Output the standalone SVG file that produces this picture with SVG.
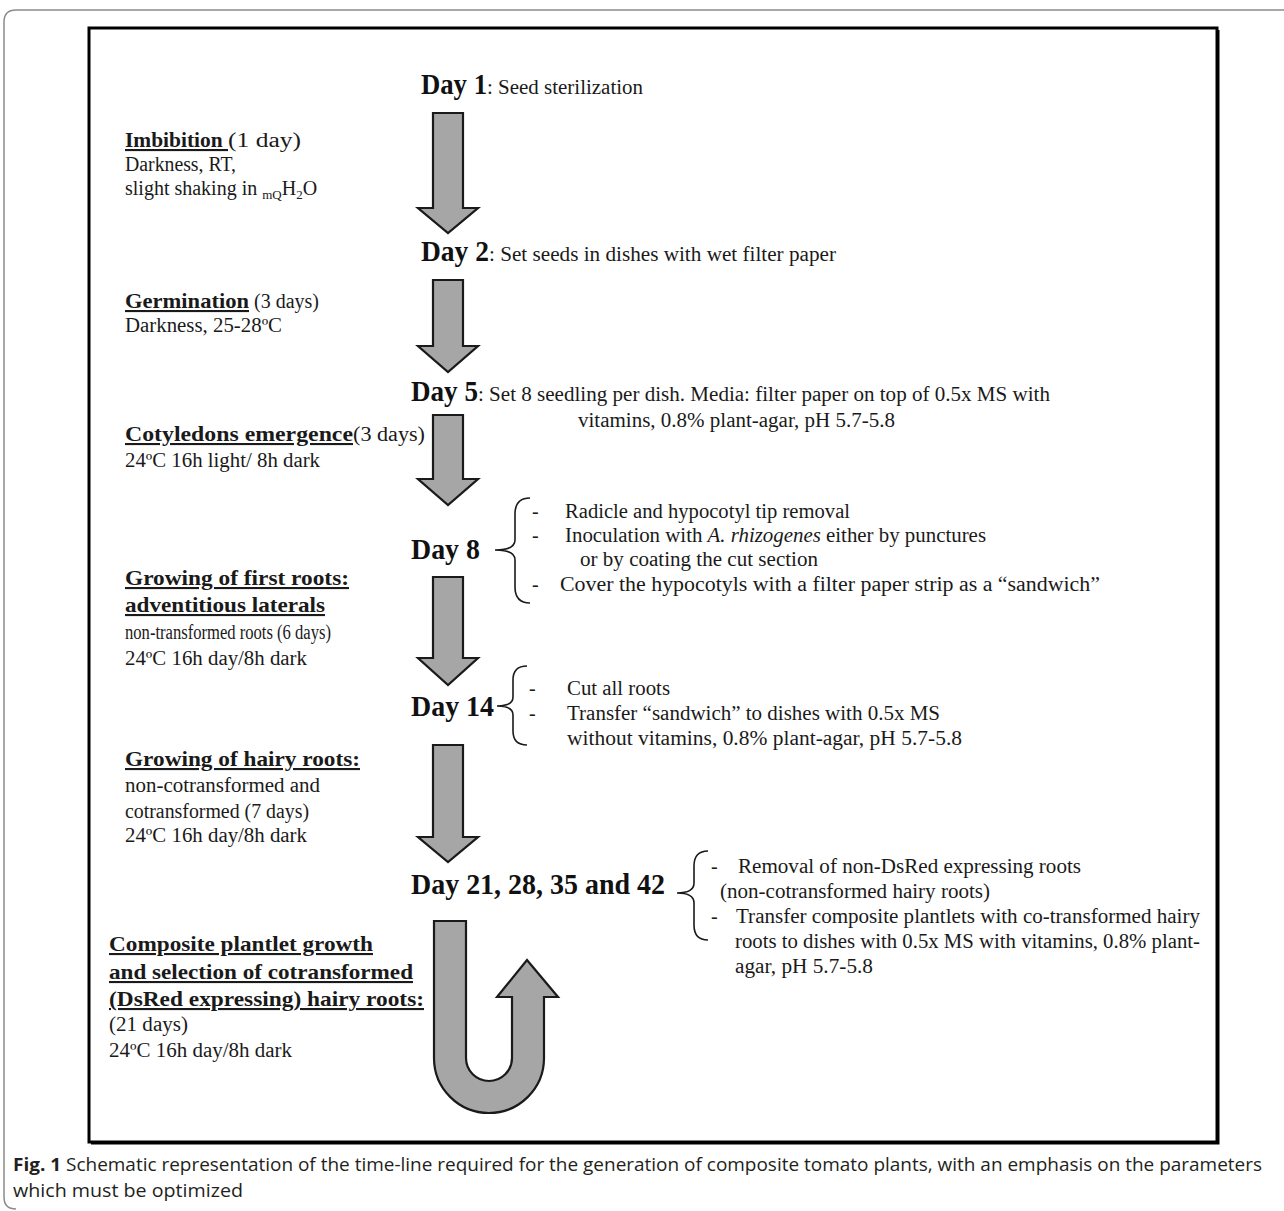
<svg xmlns="http://www.w3.org/2000/svg" width="1284" height="1211" viewBox="0 0 1284 1211">
<defs>
<style>
.t{font-family:"Liberation Serif","Times New Roman",serif;font-size:20px;fill:#1a1a1a}
.h{font-family:"Liberation Serif","Times New Roman",serif;font-size:21px;font-weight:bold;fill:#1a1a1a;text-decoration:underline}
.d{font-family:"Liberation Serif","Times New Roman",serif;font-size:29px;font-weight:bold;fill:#111}
.arrow{fill:#a6a6a6;stroke:#1a1a1a;stroke-width:2.2;stroke-linejoin:miter}
.brace{fill:none;stroke:#1a1a1a;stroke-width:1.6}
.cap{font-family:"Open Sans","Liberation Sans",sans-serif;font-size:18px;fill:#231f20}
</style>
</defs>
<rect width="1284" height="1211" fill="#fff"/>
<path d="M1284,10 H16 Q4,10 4,22 V1197 Q4,1209 16,1209" fill="none" stroke="#8c8c8c" stroke-width="1.5"/>
<rect x="89" y="28" width="1128" height="1114" fill="none" stroke="#000" stroke-width="3"/>
<path d="M91,1143.5 H1218.5 V30" fill="none" stroke="#000" stroke-width="2"/>

<g id="connectors">
<path class="arrow" d="M433,113 H463 V208 H478 L448,233 L418,208 H433 Z"/>
<path class="arrow" d="M433,280 H463 V346 H478 L448,372 L418,346 H433 Z"/>
<path class="arrow" d="M433,415 H463 V479 H478 L448,505 L418,479 H433 Z"/>
<path class="arrow" d="M433,577 H463 V658 H478 L448,685 L418,658 H433 Z"/>
<path class="arrow" d="M433,745 H463 V837 H478 L448,862 L418,837 H433 Z"/>
<path class="arrow" d="M434,921 H466 V1058 A23,23 0 0 0 512,1058 V997 H497 L527,960 L558,997 H544 V1058 A55,55 0 0 1 434,1058 Z"/>
<path class="brace" d="M530,498 Q515,498 515,514 V540 Q515,550 495,550 Q515,550 515,560 V587 Q515,603 530,603"/>
<path class="brace" d="M527,666 Q513,666 513,680 V697 Q513,706 497,706 Q513,706 513,715 V731 Q513,745 527,745"/>
<path class="brace" d="M708,851 Q694,851 694,866 V883 Q694,893 677,893 Q694,893 694,903 V925 Q694,940 708,940"/>
</g>

<g id="day1">
<text x="421" y="94"><tspan class="d" textLength="66" lengthAdjust="spacingAndGlyphs">Day 1</tspan><tspan class="t" textLength="156" lengthAdjust="spacingAndGlyphs">: Seed sterilization</tspan></text>
</g>
<g id="day2">
<text x="421" y="261"><tspan class="d" textLength="68" lengthAdjust="spacingAndGlyphs">Day 2</tspan><tspan class="t" textLength="347" lengthAdjust="spacingAndGlyphs">: Set seeds in dishes with wet filter paper</tspan></text>
</g>
<g id="day5">
<text x="411" y="401"><tspan class="d" textLength="67" lengthAdjust="spacingAndGlyphs">Day 5</tspan><tspan class="t" textLength="572" lengthAdjust="spacingAndGlyphs">: Set 8 seedling  per dish. Media:  filter  paper on top of 0.5x MS with</tspan></text>
<text class="t" x="578" y="427" textLength="317" lengthAdjust="spacingAndGlyphs">vitamins,  0.8% plant-agar,  pH 5.7-5.8</text>
</g>
<g id="day8">
<text class="d" x="411" y="559" textLength="69" lengthAdjust="spacingAndGlyphs">Day 8</text>
<text class="t" x="532" y="518">-</text>
<text class="t" x="565" y="518" textLength="285" lengthAdjust="spacingAndGlyphs">Radicle and hypocotyl tip removal</text>
<text class="t" x="532" y="542">-</text>
<text class="t" x="565" y="542" textLength="421" lengthAdjust="spacingAndGlyphs">Inoculation with <tspan font-style="italic">A. rhizogenes</tspan> either  by punctures</text>
<text class="t" x="580" y="566" textLength="238" lengthAdjust="spacingAndGlyphs">or by coating the cut section</text>
<text class="t" x="532" y="591">-</text>
<text class="t" x="560" y="591" textLength="540" lengthAdjust="spacingAndGlyphs">Cover the hypocotyls with a filter  paper strip as a  “sandwich”</text>
</g>
<g id="day14">
<text class="d" x="411" y="716" textLength="83" lengthAdjust="spacingAndGlyphs">Day 14</text>
<text class="t" x="529" y="695">-</text>
<text class="t" x="567" y="695" textLength="103" lengthAdjust="spacingAndGlyphs">Cut all roots</text>
<text class="t" x="529" y="720">-</text>
<text class="t" x="567" y="720" textLength="373" lengthAdjust="spacingAndGlyphs">Transfer “sandwich” to dishes with 0.5x MS</text>
<text class="t" x="567" y="745" textLength="395" lengthAdjust="spacingAndGlyphs">without  vitamins,  0.8% plant-agar,  pH 5.7-5.8</text>
</g>
<g id="day21">
<text class="d" x="411" y="894" textLength="254" lengthAdjust="spacingAndGlyphs">Day 21, 28, 35 and 42</text>
<text class="t" x="711" y="873">-</text>
<text class="t" x="738" y="873" textLength="343" lengthAdjust="spacingAndGlyphs">Removal of non-DsRed expressing roots</text>
<text class="t" x="720" y="898" textLength="270" lengthAdjust="spacingAndGlyphs">(non-cotransformed hairy roots)</text>
<text class="t" x="711" y="923">-</text>
<text class="t" x="736" y="923" textLength="464" lengthAdjust="spacingAndGlyphs">Transfer composite plantlets  with  co-transformed hairy</text>
<text class="t" x="735" y="948" textLength="465" lengthAdjust="spacingAndGlyphs">roots to dishes with  0.5x MS with vitamins,  0.8% plant-</text>
<text class="t" x="735" y="973" textLength="138" lengthAdjust="spacingAndGlyphs">agar, pH 5.7-5.8</text>
</g>

<g id="imbibition">
<text x="125" y="147"><tspan class="h" textLength="103" lengthAdjust="spacingAndGlyphs">Imbibition  </tspan><tspan class="t" textLength="73" lengthAdjust="spacingAndGlyphs">(1 day)</tspan></text>
<text class="t" x="125" y="171" textLength="111" lengthAdjust="spacingAndGlyphs">Darkness, RT,</text>
<text class="t" x="125" y="195">slight  shaking in <tspan font-size="13" dy="4">mQ</tspan><tspan dy="-4">H</tspan><tspan font-size="13" dy="4">2</tspan><tspan dy="-4">O</tspan></text>
</g>
<g id="germination">
<text x="125" y="308"><tspan class="h" textLength="124" lengthAdjust="spacingAndGlyphs">Germination</tspan><tspan class="t">  (3 days)</tspan></text>
<text class="t" x="125" y="332" textLength="157" lengthAdjust="spacingAndGlyphs">Darkness, 25-28ºC</text>
</g>
<g id="cotyledons">
<text x="125" y="441"><tspan class="h" textLength="228" lengthAdjust="spacingAndGlyphs">Cotyledons emergence</tspan><tspan class="t" textLength="72" lengthAdjust="spacingAndGlyphs">(3 days)</tspan></text>
<text class="t" x="125" y="467" textLength="195" lengthAdjust="spacingAndGlyphs">24ºC 16h light/  8h dark</text>
</g>
<g id="first-roots">
<text class="h" x="125" y="585" textLength="224" lengthAdjust="spacingAndGlyphs">Growing of first roots:</text>
<text class="h" x="125" y="612" textLength="200" lengthAdjust="spacingAndGlyphs">adventitious laterals</text>
<text class="t" x="125" y="639" textLength="206" lengthAdjust="spacingAndGlyphs">non-transformed roots (6 days)</text>
<text class="t" x="125" y="665" textLength="182" lengthAdjust="spacingAndGlyphs">24ºC 16h day/8h dark</text>
</g>
<g id="hairy-roots">
<text class="h" x="125" y="766" textLength="235" lengthAdjust="spacingAndGlyphs">Growing of hairy roots:</text>
<text class="t" x="125" y="792" textLength="195" lengthAdjust="spacingAndGlyphs">non-cotransformed and</text>
<text class="t" x="125" y="818" textLength="184" lengthAdjust="spacingAndGlyphs">cotransformed (7 days)</text>
<text class="t" x="125" y="842" textLength="182" lengthAdjust="spacingAndGlyphs">24ºC 16h day/8h dark</text>
</g>
<g id="composite">
<text class="h" x="109" y="951" textLength="264" lengthAdjust="spacingAndGlyphs">Composite plantlet  growth</text>
<text class="h" x="109" y="979" textLength="304" lengthAdjust="spacingAndGlyphs">and  selection of cotransformed</text>
<text class="h" x="109" y="1006" textLength="315" lengthAdjust="spacingAndGlyphs">(DsRed expressing)  hairy  roots:</text>
<text class="t" x="109" y="1031" textLength="79" lengthAdjust="spacingAndGlyphs">(21 days)</text>
<text class="t" x="109" y="1057" textLength="183" lengthAdjust="spacingAndGlyphs">24ºC 16h day/8h dark</text>
</g>

<g id="caption">
<text class="cap" x="13" y="1171" textLength="1249" lengthAdjust="spacingAndGlyphs"><tspan font-weight="bold">Fig. 1</tspan>  Schematic representation of the time-line required for the generation of composite tomato plants, with an emphasis on the parameters</text>
<text class="cap" x="13" y="1197" textLength="230" lengthAdjust="spacingAndGlyphs">which must be optimized</text>
</g>
</svg>
